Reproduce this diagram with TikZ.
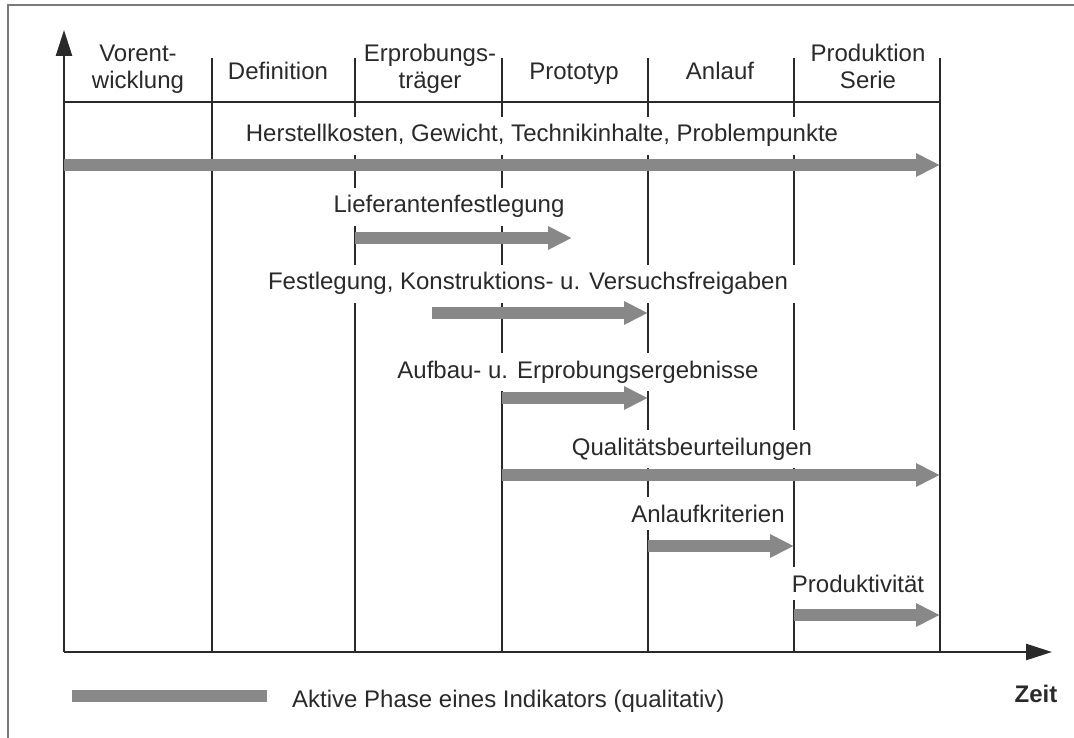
\documentclass[tikz,border=0pt]{standalone}
\usepackage{fontspec}
\setmainfont{Liberation Sans}
\usetikzlibrary{arrows.meta}
\definecolor{ink}{HTML}{2A2A2A}
\definecolor{barfill}{HTML}{888888}
\definecolor{framegray}{HTML}{7A7A7A}
\begin{document}
\begin{tikzpicture}[x=1pt,y=-1pt,
  grid/.style={line width=1.3pt, draw=ink},
  axis/.style={line width=2.6pt, draw=ink, -{Triangle[length=26pt,width=16pt]}},
  bar/.style={line width=12pt, draw=barfill, -{Triangle[length=24pt,width=22pt]}},
  legendbar/.style={line width=12pt, draw=barfill},
  txt/.style={font=\fontsize{24}{27}\selectfont, text=ink},
  lbl/.style={txt, fill=white, inner sep=8pt, anchor=base},
  head/.style={txt, align=center, inner sep=0pt, anchor=base}]
\useasboundingbox (0,0) rectangle (1074,738);

% page frame
\draw[line width=1.2pt, draw=framegray] (8,738) -- (8,5) -- (1074,5);

% phase boundaries (top ends) and origin
\foreach \n/\x in {0/64,1/212,2/355,3/502,4/648,5/794,6/940}
  \coordinate (p\n) at (\x,58);
\coordinate (o) at (64,652);
\coordinate (ytop) at (64,30);
\coordinate (xend) at (1052,652);
\coordinate (hl) at (0,102);

% phase grid
\foreach \n in {1,...,6}
  \draw[grid] (p\n) -- (p\n |- o);
\draw[grid] (p0 |- hl) -- (p6 |- hl);

% axes
\draw[axis] (o) -- (ytop);
\draw[axis] (o) -- (xend);

% phase headings (two-line headings are placed by their last baseline)
\node[head] (h1) at (138,89) {Vorent-\\wicklung};
\node[head] (h2) at (278,80) {Definition};
\node[head] (h3) at (430,89) {Erprobungs-\\träger};
\node[head] (h4) at (574,80) {Prototyp};
\node[head] (h5) at (720,80) {Anlauf};
\node[head] (h6) at (868,89) {Produktion\\Serie};

% indicator labels
\node[lbl] (t1) at (542,142) {Herstellkosten, Gewicht, Technikinhalte, Problempunkte};
\node[lbl] (t2) at (449,213) {Lieferantenfestlegung};
\node[lbl] (t3) at (528,290) {Festlegung, Konstruktions- u. Versuchsfreigaben};
\node[lbl] (t4) at (578,378) {Aufbau- u. Erprobungsergebnisse};
\node[lbl] (t5) at (692,455) {Qualitätsbeurteilungen};
\node[lbl] (t6) at (708,522) {Anlaufkriterien};
\node[lbl] (t7) at (858,592) {Produktivität};

% rows of the indicator bars
\foreach \n/\y in {1/165,2/238,3/313,4/398,5/475,6/546,7/615}
  \coordinate (r\n) at (0,\y);
\coordinate (lfEnd) at (572,238);
\coordinate (fgStart) at (432,313);

% active phases
\draw[bar] (p0 |- r1) -- (p6 |- r1);
\draw[bar] (p2 |- r2) -- (lfEnd);
\draw[bar] (fgStart) -- (p4 |- r3);
\draw[bar] (p3 |- r4) -- (p4 |- r4);
\draw[bar] (p3 |- r5) -- (p6 |- r5);
\draw[bar] (p4 |- r6) -- (p5 |- r6);
\draw[bar] (p5 |- r7) -- (p6 |- r7);

% legend
\coordinate (lg0) at (72,696);
\coordinate (lg1) at (267,696);
\draw[legendbar] (lg0) -- (lg1);
\node[txt, anchor=base west, inner sep=0pt] (leg) at (292,707) {Aktive Phase eines Indikators (qualitativ)};
\node[txt, font=\fontsize{24}{27}\selectfont\bfseries, anchor=base, inner sep=0pt] (zeit) at (1036,702) {Zeit};
\end{tikzpicture}
\end{document}
